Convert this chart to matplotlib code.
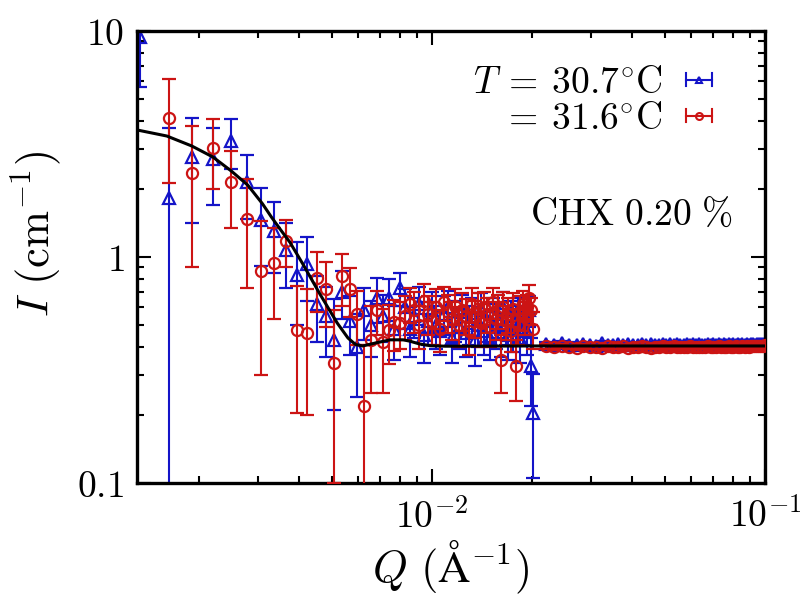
import numpy as np
import matplotlib
matplotlib.use('Agg')
import matplotlib.pyplot as plt
from matplotlib.legend_handler import HandlerBase
from matplotlib.lines import Line2D

plt.rcParams['mathtext.fontset'] = 'cm'
plt.rcParams['font.family'] = ['DejaVu Serif']

# ---------------- data ----------------
q_low = [0.00133, 0.00162, 0.00191, 0.00220, 0.00249, 0.00278, 0.00307, 0.00336, 0.00365, 0.00394,
         0.00423, 0.00452, 0.00481, 0.00510, 0.00539, 0.00568, 0.00597, 0.00626, 0.00655, 0.00684,
         0.00713, 0.00742, 0.00771, 0.00800, 0.00829, 0.00858, 0.00887, 0.00916, 0.00945, 0.00974,
         0.01003, 0.01032, 0.01061, 0.01090, 0.01119, 0.01148, 0.01177, 0.01206, 0.01235, 0.01264,
         0.01293, 0.01322, 0.01351, 0.01380, 0.01409, 0.01438, 0.01467, 0.01496, 0.01525, 0.01554,
         0.01583, 0.01612, 0.01641, 0.01670, 0.01699, 0.01728, 0.01757, 0.01786, 0.01815, 0.01844,
         0.01873, 0.01902, 0.01931, 0.01960, 0.01989, 0.02018]

i_blue_low = [9.4, 1.82, 2.77, 2.71, 3.26, 2.15, 1.46, 1.30, 1.07, 0.83,
              0.93, 0.62, 0.55, 0.43, 0.70, 0.52, 0.40, 0.58, 0.50, 0.66,
              0.55, 0.66, 0.48, 0.73, 0.60, 0.48, 0.55, 0.62, 0.45, 0.52,
              0.58, 0.50, 0.47, 0.56, 0.60, 0.44, 0.53, 0.49, 0.57, 0.46,
              0.51, 0.55, 0.43, 0.50, 0.58, 0.47, 0.52, 0.44, 0.56, 0.49,
              0.53, 0.46, 0.60, 0.50, 0.45, 0.55, 0.48, 0.52, 0.57, 0.44,
              0.50, 0.54, 0.47, 0.58, 0.33, 0.205]
e_blue_low = [3.75, 1.90, 1.36, 1.01, 0.82, 0.67, 0.55, 0.45, 0.34, 0.33,
              0.29, 0.20, 0.19, 0.22, 0.17, 0.15, 0.16, 0.15, 0.14, 0.15,
              0.13, 0.14, 0.13, 0.12, 0.12, 0.12, 0.11, 0.12, 0.11, 0.11,
              0.12, 0.11, 0.10, 0.11, 0.11, 0.10, 0.11, 0.10, 0.11, 0.10,
              0.10, 0.11, 0.10, 0.10, 0.11, 0.10, 0.10, 0.09, 0.10, 0.10,
              0.09, 0.10, 0.10, 0.09, 0.10, 0.09, 0.10, 0.09, 0.09, 0.10,
              0.09, 0.09, 0.10, 0.09, 0.11, 0.10]

i_red_low = [np.nan, 4.12, 2.35, 3.04, 2.15, 1.47, 0.87, 0.94, 1.18, 0.475,
             0.46, 0.81, 0.72, 0.34, 0.82, 0.72, 0.56, 0.22, 0.43, 0.58,
             0.42, 0.475, 0.515, 0.51, 0.55, 0.62, 0.58, 0.50, 0.64, 0.56,
             0.52, 0.60, 0.48, 0.63, 0.57, 0.53, 0.61, 0.50, 0.58, 0.55,
             0.47, 0.62, 0.54, 0.59, 0.51, 0.60, 0.56, 0.49, 0.63, 0.53,
             0.58, 0.35, 0.60, 0.52, 0.56, 0.47, 0.59, 0.33, 0.50, 0.57,
             0.62, 0.54, 0.60, 0.66, 0.58, 0.48]
e_red_low = [np.nan, 2.00, 1.45, 1.05, 0.80, 0.74, 0.57, 0.41, 0.28, 0.27,
             0.26, 0.24, 0.23, 0.24, 0.215, 0.175, 0.15, 0.19, 0.18, 0.13,
             0.17, 0.14, 0.13, 0.12, 0.12, 0.11, 0.12, 0.11, 0.12, 0.11,
             0.11, 0.12, 0.10, 0.11, 0.11, 0.10, 0.11, 0.10, 0.11, 0.10,
             0.10, 0.11, 0.10, 0.10, 0.11, 0.10, 0.10, 0.09, 0.10, 0.10,
             0.10, 0.10, 0.10, 0.09, 0.10, 0.09, 0.10, 0.10, 0.09, 0.10,
             0.09, 0.09, 0.08, 0.09, 0.08, 0.09]

q_high = [0.0220, 0.0233, 0.0246, 0.0259, 0.0272, 0.0285, 0.0298, 0.0311, 0.0324, 0.0337,
          0.0350, 0.0363, 0.0376, 0.0389, 0.0402, 0.0415, 0.0428, 0.0441, 0.0454, 0.0467,
          0.0480, 0.0493, 0.0506, 0.0519, 0.0532, 0.0545, 0.0558, 0.0571, 0.0584, 0.0597,
          0.0610, 0.0623, 0.0636, 0.0649, 0.0662, 0.0675, 0.0688, 0.0701, 0.0714, 0.0727,
          0.0740, 0.0753, 0.0766, 0.0779, 0.0792, 0.0805, 0.0818, 0.0831, 0.0844, 0.0857,
          0.0870, 0.0883, 0.0896, 0.0909, 0.0922, 0.0935, 0.0948, 0.0961, 0.0974, 0.0987,
          0.1000]
i_blue_high = [0.412, 0.408, 0.415, 0.410, 0.406, 0.413, 0.409, 0.405, 0.418, 0.410,
               0.407, 0.412, 0.409, 0.414, 0.408, 0.406, 0.411, 0.409, 0.413, 0.407,
               0.410, 0.412, 0.408, 0.411, 0.409, 0.414, 0.407, 0.410, 0.412, 0.408,
               0.411, 0.409, 0.413, 0.410, 0.408, 0.412, 0.409, 0.411, 0.410, 0.413,
               0.408, 0.411, 0.409, 0.412, 0.410, 0.411, 0.409, 0.412, 0.410, 0.411,
               0.409, 0.412, 0.410, 0.411, 0.413, 0.410, 0.412, 0.411, 0.413, 0.414,
               0.412]
e_blue_high = [0.010, 0.010, 0.009, 0.009, 0.009, 0.009, 0.008, 0.008, 0.008, 0.008,
               0.008, 0.008, 0.007, 0.007, 0.007, 0.007, 0.007, 0.007, 0.007, 0.007,
               0.007, 0.007, 0.007, 0.007, 0.007, 0.007, 0.007, 0.007, 0.007, 0.007,
               0.007, 0.007, 0.007, 0.007, 0.007, 0.007, 0.007, 0.007, 0.007, 0.007,
               0.007, 0.007, 0.007, 0.007, 0.007, 0.007, 0.007, 0.007, 0.007, 0.007,
               0.007, 0.007, 0.007, 0.007, 0.007, 0.007, 0.007, 0.007, 0.007, 0.007,
               0.007]
i_red_high = [0.402, 0.398, 0.404, 0.400, 0.396, 0.403, 0.399, 0.401, 0.397, 0.402,
              0.400, 0.398, 0.403, 0.395, 0.401, 0.399, 0.402, 0.400, 0.397, 0.401,
              0.399, 0.403, 0.400, 0.398, 0.402, 0.400, 0.399, 0.401, 0.398, 0.402,
              0.400, 0.399, 0.401, 0.400, 0.398, 0.402, 0.400, 0.401, 0.399, 0.402,
              0.400, 0.401, 0.399, 0.402, 0.401, 0.400, 0.402, 0.401, 0.400, 0.402,
              0.401, 0.403, 0.401, 0.402, 0.403, 0.402, 0.403, 0.404, 0.403, 0.405,
              0.406]
e_red_high = e_blue_high

q_fit = [0.0013, 0.0016, 0.0019, 0.0022, 0.0025, 0.0028, 0.0031, 0.0033, 0.0035, 0.00375,
         0.0041, 0.0046, 0.0052, 0.0056, 0.0059, 0.0062, 0.0068, 0.0075, 0.0082, 0.0086,
         0.0092, 0.0099, 0.011, 0.013, 0.02, 0.05, 0.1]
i_fit = [3.65, 3.43, 3.10, 2.77, 2.40, 2.08, 1.72, 1.50, 1.33, 1.16,
         0.93, 0.69, 0.51, 0.438, 0.410, 0.404, 0.417, 0.430, 0.430, 0.424,
         0.412, 0.405, 0.403, 0.403, 0.404, 0.404, 0.404]

labels = [r'$T\:=\:30.7^{\circ}\mathrm{C}$', r'$=\:31.6^{\circ}\mathrm{C}$']
annot = r'$\mathrm{CHX\ 0.20\ \%}$'
xticks = [0.01, 0.1]
xticklabels = [r'$10^{-2}$', r'$10^{-1}$']
yticks = [0.1, 1, 10]
yticklabels = [r'$0.1$', r'$1$', r'$10$']

blue = '#1414c8'
red = '#cc1414'


class HandlerHBar(HandlerBase):
    def create_artists(self, legend, orig_handle, xdescent, ydescent,
                       width, height, fontsize, trans):
        c = orig_handle.get_color()
        y = height / 2.0 - ydescent
        x0 = -xdescent
        x1 = -xdescent + width
        h = 4.7
        arts = [Line2D([x0, x1], [y, y], color=c, lw=1.5),
                Line2D([x0, x0], [y - h, y + h], color=c, lw=1.5),
                Line2D([x1, x1], [y - h, y + h], color=c, lw=1.5),
                Line2D([(x0 + x1) / 2.0], [y], marker=orig_handle.get_marker(),
                       ms=orig_handle.get_markersize(), mfc='none', mec=c,
                       mew=1.5, ls='none')]
        for a in arts:
            a.set_transform(trans)
        return arts


fig = plt.figure(figsize=(8.0, 5.96), dpi=100)
ax = fig.add_axes([0.171, 0.1896, 0.785, 0.7584])
ax.set_xscale('log')
ax.set_yscale('log')

ekw = dict(capsize=5, elinewidth=1.5, capthick=1.5, mew=1.6, mfc='none', ls='none')
for q, ii, ee in ((q_low, i_blue_low, e_blue_low), (q_high, i_blue_high, e_blue_high)):
    ax.errorbar(q, ii, yerr=ee, marker='^', ms=8, color=blue, mec=blue, zorder=2, **ekw)
for q, ii, ee in ((q_low, i_red_low, e_red_low), (q_high, i_red_high, e_red_high)):
    ax.errorbar(q, ii, yerr=ee, marker='o', ms=8, color=red, mec=red, zorder=3, **ekw)
ax.plot(q_fit, i_fit, color='black', lw=2.2, zorder=5)

ax.set_xlim(0.0013, 0.1)
ax.set_ylim(0.1, 10)
ax.set_xticks(xticks)
ax.set_xticklabels(xticklabels)
ax.set_yticks(yticks)
ax.set_yticklabels(yticklabels)
ax.tick_params(which='both', direction='in', top=True, right=True, width=1.5)
ax.tick_params(which='major', length=10, labelsize=27, pad=9)
ax.tick_params(which='minor', length=5)
ax.tick_params(axis='x', which='major', pad=11)
for s in ax.spines.values():
    s.set_linewidth(2.4)

ax.set_xlabel(r'$Q\ (\mathrm{\AA}^{-1})$', fontsize=32, labelpad=2)
ax.set_ylabel(r'$I\ (\mathrm{cm}^{-1})$', fontsize=32)
ax.yaxis.set_label_coords(-0.118, 0.55)

handles = [Line2D([], [], color=blue, marker='^', ms=5),
           Line2D([], [], color=red, marker='o', ms=5)]
ax.legend(handles, labels, loc='upper right', bbox_to_anchor=(0.9156, 0.925),
          frameon=False, markerfirst=False, fontsize=27, handlelength=0.7,
          handletextpad=0.62, labelspacing=0.0, borderpad=0, borderaxespad=0,
          handler_map={Line2D: HandlerHBar()})
ax.text(0.949, 0.593, annot, transform=ax.transAxes, ha='right', va='center', fontsize=27)

fig.savefig('out.png', dpi=100)
